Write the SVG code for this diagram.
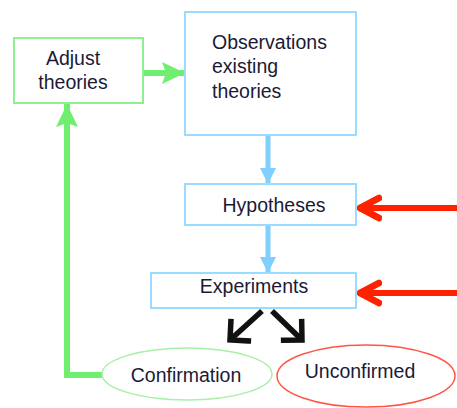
<svg xmlns="http://www.w3.org/2000/svg" width="457" height="408" viewBox="0 0 457 408">
<defs>
<style>
text{font-family:"Liberation Sans",Arial,sans-serif;font-size:19.5px;fill:#1b1a36}
.box{fill:#fff;stroke-width:2}
.blue{stroke:#99dcff}
.greenb{stroke:#8ff08f}
</style>
<marker id="ag" markerUnits="userSpaceOnUse" markerWidth="26" markerHeight="26" refX="23" refY="12" orient="auto" viewBox="0 0 26 24"><path d="M0,1 L23,12 L0,23 L4,12 Z" fill="#6fee6f"/></marker>
<marker id="ab" markerUnits="userSpaceOnUse" markerWidth="20" markerHeight="20" refX="16" refY="8" orient="auto" viewBox="0 0 20 16"><path d="M0,0 L16,8 L0,16 Z" fill="#7fd0ff"/></marker>
<marker id="ar" markerUnits="userSpaceOnUse" markerWidth="30" markerHeight="30" refX="24" refY="13" orient="auto" viewBox="0 0 30 26"><path d="M3,3 L22,13 L3,23" fill="none" stroke="#ff2200" stroke-width="6.5" stroke-linejoin="round" stroke-linecap="round"/></marker>
<marker id="ak" markerUnits="userSpaceOnUse" markerWidth="28" markerHeight="36" refX="18" refY="18" orient="auto" viewBox="0 0 28 36"><path d="M5,5 L18,18 L5,31" fill="none" stroke="#111" stroke-width="5.5" stroke-linejoin="miter" stroke-linecap="square"/></marker>
</defs>
<g id="connectors">
<line x1="143" y1="73" x2="185" y2="73" stroke="#6fee6f" stroke-width="6" marker-end="url(#ag)"/>
<polyline points="103,375 67,375 67,104" fill="none" stroke="#6fee6f" stroke-width="6" marker-end="url(#ag)"/>
<line x1="268" y1="136" x2="268" y2="184" stroke="#7fd0ff" stroke-width="5" marker-end="url(#ab)"/>
<line x1="268" y1="226" x2="268" y2="273" stroke="#7fd0ff" stroke-width="5" marker-end="url(#ab)"/>
<line x1="457" y1="208" x2="358" y2="208" stroke="#ff2200" stroke-width="6" marker-end="url(#ar)"/>
<line x1="457" y1="293" x2="358" y2="293" stroke="#ff2200" stroke-width="6" marker-end="url(#ar)"/>
<line x1="262" y1="311" x2="230" y2="340" stroke="#111" stroke-width="5.5" marker-end="url(#ak)"/>
<line x1="272" y1="311" x2="302" y2="340" stroke="#111" stroke-width="5.5" marker-end="url(#ak)"/>
</g>
<g id="adjust">
<rect class="box greenb" x="14" y="38" width="129" height="65"/>
<text x="73" y="65" text-anchor="middle">Adjust</text>
<text x="73" y="89" text-anchor="middle">theories</text>
</g>
<g id="observations">
<rect class="box blue" x="185" y="12" width="171" height="123"/>
<text x="212" y="49">Observations</text>
<text x="212" y="73">existing</text>
<text x="212" y="98">theories</text>
</g>
<g id="hypotheses">
<rect class="box blue" x="185" y="184" width="171" height="41"/>
<text x="274" y="212" text-anchor="middle">Hypotheses</text>
</g>
<g id="experiments">
<rect class="box blue" x="151" y="273" width="205" height="35"/>
<text x="254" y="293" text-anchor="middle">Experiments</text>
</g>
<g id="confirmation">
<ellipse cx="187" cy="374" rx="85" ry="26" fill="#fff" stroke="#a8f0a8" stroke-width="1.5"/>
<text x="186" y="382" text-anchor="middle">Confirmation</text>
</g>
<g id="unconfirmed">
<ellipse cx="366" cy="376" rx="89" ry="31" fill="#fff" stroke="#ff5544" stroke-width="1.5"/>
<text x="360" y="378" text-anchor="middle">Unconfirmed</text>
</g>
</svg>
